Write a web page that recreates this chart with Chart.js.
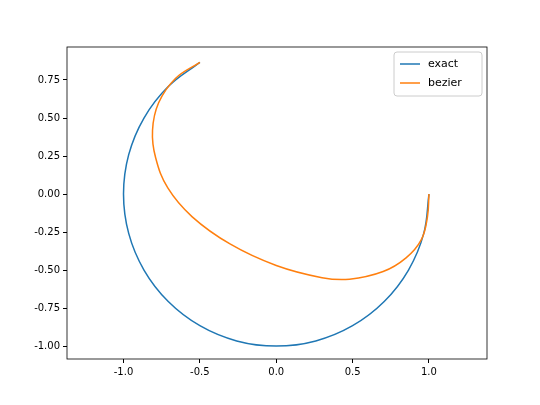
<!DOCTYPE html>
<html>
<head>
<meta charset="utf-8">
<script src="https://cdn.jsdelivr.net/npm/chart.js"></script>
<style>
  html, body { margin: 0; padding: 0; background: #fff; }
  #wrap { width: 540px; height: 405px; }
</style>
</head>
<body>
<div id="wrap"><canvas id="c" width="540" height="405"></canvas></div>
<script>
// Curva exacta
const exactX = [1.0, 0.966, 0.866, 0.707, 0.5, 0.259, 0.0, -0.259, -0.5, -0.707, -0.866, -0.966, -1.0, -0.966, -0.866, -0.707, -0.5];
const exactY = [0.0, -0.259, -0.5, -0.707, -0.866, -0.966, -1.0, -0.966, -0.866, -0.707, -0.5, -0.259, 0.0, 0.259, 0.5, 0.707, 0.866];

// Curva bezier
const bezierX = [1.0, 0.99, 0.95, 0.85, 0.7, 0.48, 0.3, 0.0, -0.3, -0.55, -0.71, -0.79, -0.81, -0.77, -0.66, -0.5];
const bezierY = [0.0, -0.15, -0.3, -0.42, -0.51, -0.56, -0.55, -0.47, -0.33, -0.15, 0.04, 0.24, 0.42, 0.6, 0.76, 0.866];

const xTicks = [-1.0, -0.5, 0.0, 0.5, 1.0];
const yTicks = [-1.0, -0.75, -0.5, -0.25, 0.0, 0.25, 0.5, 0.75];

const toPoints = (xs, ys) => xs.map((x, i) => ({ x: x, y: ys[i] }));

const frame = {
    id: 'frame',
    afterDraw(chart) {
        const a = chart.chartArea, ctx = chart.ctx;
        ctx.save();
        ctx.strokeStyle = '#000';
        ctx.lineWidth = 0.8;
        ctx.strokeRect(a.left, a.top, a.right - a.left, a.bottom - a.top);
        // leyenda
        const bx = a.right - 93, by = a.top + 5, bw = 88, bh = 44;
        ctx.fillStyle = 'rgba(255,255,255,0.8)';
        ctx.strokeStyle = '#ccc';
        ctx.lineWidth = 1;
        ctx.beginPath();
        ctx.roundRect(bx, by, bw, bh, 3);
        ctx.fill(); ctx.stroke();
        ctx.font = '11px "DejaVu Sans"';
        ctx.textBaseline = 'middle';
        chart.data.datasets.forEach((ds, i) => {
            const yy = by + 12 + i * 19;
            ctx.strokeStyle = ds.borderColor;
            ctx.lineWidth = 1.5;
            ctx.beginPath();
            ctx.moveTo(bx + 6, yy); ctx.lineTo(bx + 26, yy);
            ctx.stroke();
            ctx.fillStyle = '#000';
            ctx.fillText(ds.label, bx + 34, yy);
        });
        ctx.restore();
    }
};

const gridOpts = { display: true, drawOnChartArea: false, drawTicks: true, tickLength: 4, tickColor: '#000' };

new Chart(document.getElementById('c'), {
    type: 'scatter',
    data: {
        datasets: [{
            label: 'exact',
            data: toPoints(exactX, exactY),
            borderColor: '#1f77b4',
            showLine: true,
            tension: 0.4,
            pointRadius: 0,
            borderWidth: 1.5,
            order: 1,
        }, {
            label: 'bezier',
            data: toPoints(bezierX, bezierY),
            borderColor: '#ff7f0e',
            showLine: true,
            tension: 0.4,
            pointRadius: 0,
            borderWidth: 1.5,
            order: 0,
        }]
    },
    options: {
        responsive: false,
        animation: false,
        layout: { padding: { top: 47, right: 53, left: 0, bottom: 0 } },
        plugins: { legend: { display: false }, tooltip: { enabled: false } },
        scales: {
            x: {
                min: -1.37, max: 1.38,
                grid: gridOpts,
                border: { display: false },
                afterBuildTicks: (s) => { s.ticks = xTicks.map(v => ({ value: v })); },
                afterFit: (s) => { s.height = 46; },
                ticks: {
                    color: '#000', font: { family: 'DejaVu Sans', size: 10 }, maxRotation: 0,
                    callback: (v) => v.toFixed(1)
                }
            },
            y: {
                min: -1.085, max: 0.967,
                grid: gridOpts,
                border: { display: false },
                afterBuildTicks: (s) => { s.ticks = yTicks.map(v => ({ value: v })); },
                afterFit: (s) => { s.width = 67; },
                ticks: {
                    color: '#000', font: { family: 'DejaVu Sans', size: 10 },
                    callback: (v) => v.toFixed(2)
                }
            }
        }
    },
    plugins: [frame]
});
</script>
</body>
</html>
